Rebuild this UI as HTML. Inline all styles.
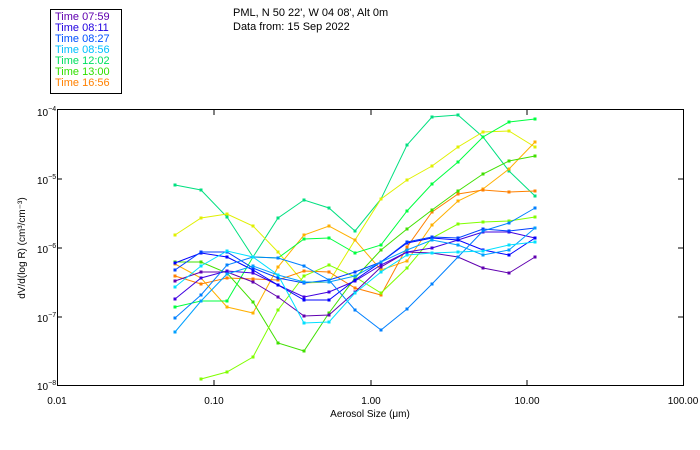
<!DOCTYPE html>
<html><head><meta charset="utf-8"><style>
html,body{margin:0;padding:0;background:#fff;}
svg{display:block;font-family:"Liberation Sans",sans-serif;}
</style></head><body>
<svg width="700" height="450" viewBox="0 0 700 450" xmlns="http://www.w3.org/2000/svg">
<rect x="0" y="0" width="700" height="450" fill="#fff"/>
<rect x="50.5" y="9.5" width="71" height="84" fill="none" stroke="#000"/>
<g font-size="11">
<text x="55" y="20" fill="#6000b0">Time 07:59</text>
<text x="55" y="31" fill="#2000e0">Time 08:11</text>
<text x="55" y="42" fill="#0050ff">Time 08:27</text>
<text x="55" y="53" fill="#00c0ff">Time 08:56</text>
<text x="55" y="64" fill="#00e060">Time 12:02</text>
<text x="55" y="75" fill="#30e000">Time 13:00</text>
<text x="55" y="86" fill="#ff8000">Time 16:56</text>
<text x="233" y="16" fill="#000">PML, N 50 22', W 04 08', Alt 0m</text>
<text x="233" y="30" fill="#000">Data from: 15 Sep 2022</text>
</g>
<rect x="57.5" y="109.5" width="626" height="276" fill="none" stroke="#000"/>
<g stroke="#000">
<line x1="214" y1="110" x2="214" y2="115"/><line x1="371" y1="110" x2="371" y2="115"/><line x1="527" y1="110" x2="527" y2="115"/>
<line x1="214" y1="385" x2="214" y2="380"/><line x1="371" y1="385" x2="371" y2="380"/><line x1="527" y1="385" x2="527" y2="380"/>
<line x1="57" y1="179" x2="62" y2="179"/><line x1="57" y1="248" x2="62" y2="248"/><line x1="57" y1="317" x2="62" y2="317"/>
<line x1="683" y1="179" x2="678" y2="179"/><line x1="683" y1="248" x2="678" y2="248"/><line x1="683" y1="317" x2="678" y2="317"/>
</g>
<g font-size="10" fill="#000">
<text x="37" y="116">10<tspan dy="-5" font-size="7">−4</tspan></text>
<text x="37" y="184">10<tspan dy="-5" font-size="7">−5</tspan></text>
<text x="37" y="253">10<tspan dy="-5" font-size="7">−6</tspan></text>
<text x="37" y="322">10<tspan dy="-5" font-size="7">−7</tspan></text>
<text x="37" y="390">10<tspan dy="-5" font-size="7">−8</tspan></text>
<text x="57" y="404" text-anchor="middle">0.01</text>
<text x="214" y="404" text-anchor="middle">0.10</text>
<text x="371" y="404" text-anchor="middle">1.00</text>
<text x="527" y="404" text-anchor="middle">10.00</text>
<text x="683" y="404" text-anchor="middle">100.00</text>
<text x="370" y="417" text-anchor="middle">Aerosol Size (μm)</text>
<text transform="translate(25,248) rotate(-90)" text-anchor="middle">dV/d(log R) (cm³/cm⁻³)</text>
</g>
<g fill="none" stroke-width="1" id="lines"></g>
<script>
var X=[175,201,227,253,278,304,329,355,381,407,432,458,483,509,535];
var S=[
["#00e080",[185,190,217,257,218,200,208,231,199,145,117,115,137,171,196]],
["#e0f000",[235,218,214,226,252,283,282,240,199,180,166,147,132,131,147]],
["#ffb000",[264,278,307,313,267,235,226,240,270,261,225,201,189,169,142]],
["#ff8000",[276,284,278,279,280,271,272,288,295,247,212,194,190,192,191]],
["#40e000",[262,262,273,302,343,351,313,278,250,229,210,191,174,161,156]],
["#80ff00",[null,379,372,357,310,276,265,277,293,268,238,224,222,221,217]],
["#00ff40",[307,301,301,257,258,239,238,253,245,211,184,162,137,122,119]],
["#6000b0",[281,272,272,282,297,316,315,292,267,252,253,257,268,273,257]],
["#4000e0",[299,278,271,273,285,297,292,281,265,252,248,240,232,232,238]],
["#0000ff",[263,253,257,270,285,300,300,280,262,243,238,240,250,255,238]],
["#0040ff",[270,252,252,268,278,283,280,272,262,242,237,238,229,231,228]],
["#0080ff",[318,295,265,257,258,266,280,310,330,309,284,257,231,223,208]],
["#00a0ff",[332,301,274,266,275,282,282,276,262,250,240,245,255,250,228]],
["#00e0ff",[287,266,251,257,275,323,322,293,272,255,253,252,251,245,242]]
];
var g=document.getElementById("lines"),ns="http://www.w3.org/2000/svg";
S.forEach(function(s){var pts=[];s[1].forEach(function(y,i){if(y!=null){pts.push(X[i]+","+y);
var r=document.createElementNS(ns,"rect");r.setAttribute("x",X[i]-1.5);r.setAttribute("y",y-1.5);r.setAttribute("width",3);r.setAttribute("height",3);r.setAttribute("fill",s[0]);g.appendChild(r);}});
var p=document.createElementNS(ns,"polyline");p.setAttribute("points",pts.join(" "));p.setAttribute("stroke",s[0]);g.appendChild(p);});
</script>
</svg>
</body></html>
